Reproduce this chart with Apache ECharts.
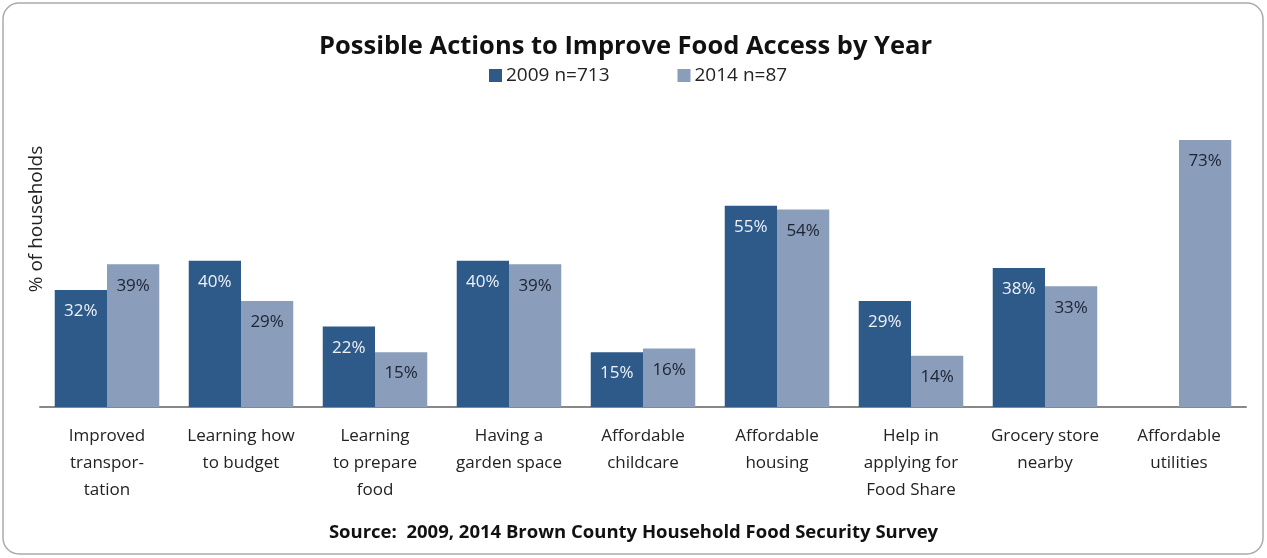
<!DOCTYPE html>
<html><head><meta charset="utf-8">
<script src="https://cdn.jsdelivr.net/npm/echarts@6/dist/echarts.min.js"></script>
<style>html,body{margin:0;padding:0;background:#fff}#c{width:1267px;height:558px}</style>
</head><body><div id="c"></div>
<script>
const categories = ["Improved\ntranspor-\ntation","Learning how\nto budget","Learning\nto prepare\nfood","Having a\ngarden space","Affordable\nchildcare","Affordable\nhousing","Help in\napplying for\nFood Share","Grocery store\nnearby","Affordable\nutilities"];
const values2009 = [32, 40, 22, 40, 15, 55, 29, 38, null];
const values2014 = [39, 29, 15, 39, 16, 54, 14, 33, 73];
const seriesNames = ["2009 n=713", "2014 n=87"];
const yAxisName = '% of households';

const FONT = '"Open Sans", "Liberation Sans", sans-serif';
const chart = echarts.init(document.getElementById('c'));
chart.setOption({
  animation: false,
  textStyle: {fontFamily: FONT},
  title: {
    text: 'Possible Actions to Improve Food Access by Year',
    left: 314, top: 29,
    textStyle: {fontFamily: FONT, fontSize: 25.5, fontWeight: 'bold', color: '#111'}
  },
  legend: {
    top: 61, left: 484, itemGap: 68, itemWidth: 13, itemHeight: 13,
    icon: 'rect',
    textStyle: {fontFamily: FONT, fontSize: 19, color: '#222', padding: [0, 0, 0, -1]},
    data: seriesNames
  },
  grid: {left: 40, right: 21, top: 114.4, bottom: 151},
  xAxis: {
    type: 'category', data: categories,
    axisLine: {lineStyle: {color: '#888', width: 2}},
    axisTick: {show: false},
    axisLabel: {fontFamily: FONT, fontSize: 17, color: '#222', lineHeight: 27, margin: 16, interval: 0}
  },
  yAxis: {
    type: 'value', min: 0, max: 80,
    axisLine: {show: false}, axisTick: {show: false}, axisLabel: {show: false},
    splitLine: {show: false}
  },
  series: [
    {
      name: seriesNames[0], type: 'bar', data: values2009,
      barGap: '0%', barCategoryGap: '22%',
      itemStyle: {color: '#2E5A8A'},
      label: {show: true, position: 'insideTop', distance: 13, formatter: '{c}%', fontFamily: FONT, fontSize: 17, color: '#eef2f7'}
    },
    {
      name: seriesNames[1], type: 'bar', data: values2014,
      barGap: '0%', barCategoryGap: '22%',
      itemStyle: {color: '#8A9DBA'},
      label: {show: true, position: 'insideTop', distance: 13, formatter: '{c}%', fontFamily: FONT, fontSize: 17, color: '#1c2333'}
    }
  ],
  graphic: [
    {type: 'rect', shape: {x: 3, y: 3, width: 1260, height: 551, r: 16}, style: {fill: 'none', stroke: '#aaa', lineWidth: 1.5}, z: -1},
    {type: 'text', x: 37, y: 219, rotation: Math.PI / 2, style: {text: yAxisName, font: '19px ' + FONT, fill: '#222', align: 'center', verticalAlign: 'middle'}},
    {type: 'text', left: 'center', top: 523, style: {text: 'Source:  2009, 2014 Brown County Household Food Security Survey', font: 'bold 18.5px ' + FONT, fill: '#111'}}
  ]
});
</script></body></html>
